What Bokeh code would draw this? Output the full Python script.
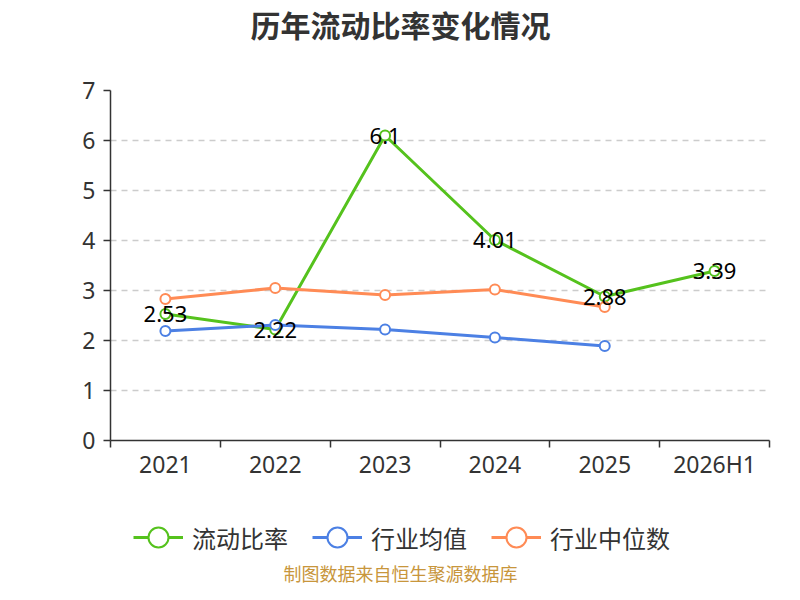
from bokeh.plotting import figure
from bokeh.layouts import column
from bokeh.models import (FixedTicker, Legend, LegendItem, ColumnDataSource,
                          Range1d, LabelSet, Label)
from bokeh.core.properties import value
from bokeh.embed import file_html
from bokeh.resources import INLINE

categories = ["2021", "2022", "2023", "2024", "2025", "2026H1"]
ratio = [2.53, 2.22, 6.1, 4.01, 2.88, 3.39]
ratio_labels = ["2.53", "2.22", "6.1", "4.01", "2.88", "3.39"]
industry_avg = [2.19, 2.31, 2.22, 2.06, 1.89]
industry_median = [2.83, 3.05, 2.91, 3.02, 2.67]
y_ticks = [0, 1, 2, 3, 4, 5, 6, 7]
series_names = ["流动比率", "行业均值", "行业中位数"]
title_text = "历年流动比率变化情况"
source_text = "制图数据来自恒生聚源数据库"

GREEN = "#55c21d"
BLUE = "#4c80e4"
ORANGE = "#ff8b55"
COLORS = [GREEN, BLUE, ORANGE]
NUM_FONT = "Noto Sans"
CJK_FONT = "Noto Sans CJK SC"
W = 784
FRAME_L, FRAME_R = 110, 769   # frame edges (all strips share them in the column)


def blank_fig(h):
    f = figure(width=W, height=h, output_backend="svg", toolbar_location=None,
               x_range=Range1d(FRAME_L, FRAME_R), y_range=Range1d(0, h),
               x_axis_type=None, y_axis_type=None,
               min_border_left=FRAME_L, min_border_right=W - FRAME_R,
               min_border_top=0, min_border_bottom=0)
    f.outline_line_color = None
    f.xgrid.visible = False
    f.ygrid.visible = False
    return f


# ---- title strip ----
HT = 75
pt = blank_fig(HT)
pt.add_layout(Label(x=400, y=HT - 23, text=title_text, text_align="center",
                    text_baseline="middle", text_font=CJK_FONT, text_font_size="30px",
                    text_font_style="bold", text_color="#333333"))

# ---- main plot ----
xs = [i + 0.5 for i in range(len(categories))]

p = figure(width=W, height=415, output_backend="svg", toolbar_location=None,
           x_range=Range1d(0, len(categories)), y_range=Range1d(0, 7),
           min_border_left=FRAME_L, min_border_right=W - FRAME_R, min_border_top=15,
           min_border_bottom=50)
p.outline_line_color = None

p.xaxis.ticker = FixedTicker(ticks=xs, minor_ticks=list(range(len(categories) + 1)))
p.xaxis.major_label_overrides = {x: c for x, c in zip(xs, categories)}
p.xaxis.major_tick_line_color = None
p.xaxis.major_tick_out = 0
p.xaxis.major_tick_in = 0
p.xaxis.minor_tick_out = 7
p.xaxis.minor_tick_in = 0
p.xaxis.minor_tick_line_color = "#333333"
p.xaxis.minor_tick_line_width = 1.5
p.xaxis.axis_line_color = "#333333"
p.xaxis.axis_line_width = 1.5
p.xaxis.major_label_text_font = NUM_FONT
p.xaxis.major_label_text_font_size = "23px"
p.xaxis.major_label_text_color = "#333333"
p.xaxis.major_label_standoff = 0

p.yaxis.ticker = FixedTicker(ticks=y_ticks)
p.yaxis.minor_tick_line_color = None
p.yaxis.major_tick_out = 7
p.yaxis.major_tick_in = 0
p.yaxis.major_tick_line_color = "#333333"
p.yaxis.major_tick_line_width = 1.5
p.yaxis.axis_line_color = "#333333"
p.yaxis.axis_line_width = 1.5
p.yaxis.major_label_text_font = NUM_FONT
p.yaxis.major_label_text_font_size = "23px"
p.yaxis.major_label_text_color = "#333333"
p.yaxis.major_label_standoff = 8

p.xgrid.grid_line_color = None
p.ygrid.grid_line_color = "#cccccc"
p.ygrid.grid_line_dash = "6 5"
p.ygrid.grid_line_width = 1.5

src_ratio = ColumnDataSource(dict(x=xs, y=ratio, t=ratio_labels))
src_avg = ColumnDataSource(dict(x=xs[:len(industry_avg)], y=industry_avg))
src_med = ColumnDataSource(dict(x=xs[:len(industry_median)], y=industry_median))
sources = [src_ratio, src_avg, src_med]

for src, color in zip(sources, COLORS):
    p.line("x", "y", source=src, line_color=color, line_width=3)
    p.scatter("x", "y", source=src, size=10, fill_color="white",
              line_color=color, line_width=2)

p.add_layout(LabelSet(x="x", y="y", text="t", source=src_ratio, text_align="center",
                      text_baseline="middle", text_font=value(NUM_FONT),
                      text_font_size=value("22px"), text_color="black"))

# ---- legend + source strip ----
HB = 94
pb = blank_fig(HB)
items = []
for name, color, src in zip(series_names, COLORS, sources):
    ln = pb.line("x", "y", source=src, line_color=color, line_width=3, visible=False)
    sc = pb.scatter("x", "y", source=src, fill_color="white", line_color=color,
                    line_width=2, visible=False)
    items.append(LegendItem(label=name, renderers=[ln, sc]))

legend = Legend(items=items, orientation="horizontal",
                location=(133 - FRAME_L, HB - 47 - 25),
                glyph_width=50, glyph_height=50, label_standoff=9, spacing=24,
                label_text_font=CJK_FONT, label_text_font_size="24px",
                label_text_color="#333333", border_line_color=None,
                background_fill_alpha=0, margin=0, padding=0,
                inactive_fill_alpha=0, click_policy="none")
pb.add_layout(legend)
pb.add_layout(Label(x=400, y=HB - 82, text=source_text, text_align="center",
                    text_baseline="middle", text_font=CJK_FONT, text_font_size="18px",
                    text_color="#c8963c"))

layout = column(pt, p, pb, spacing=0)
open("out.html", "w").write(file_html(layout, INLINE))
